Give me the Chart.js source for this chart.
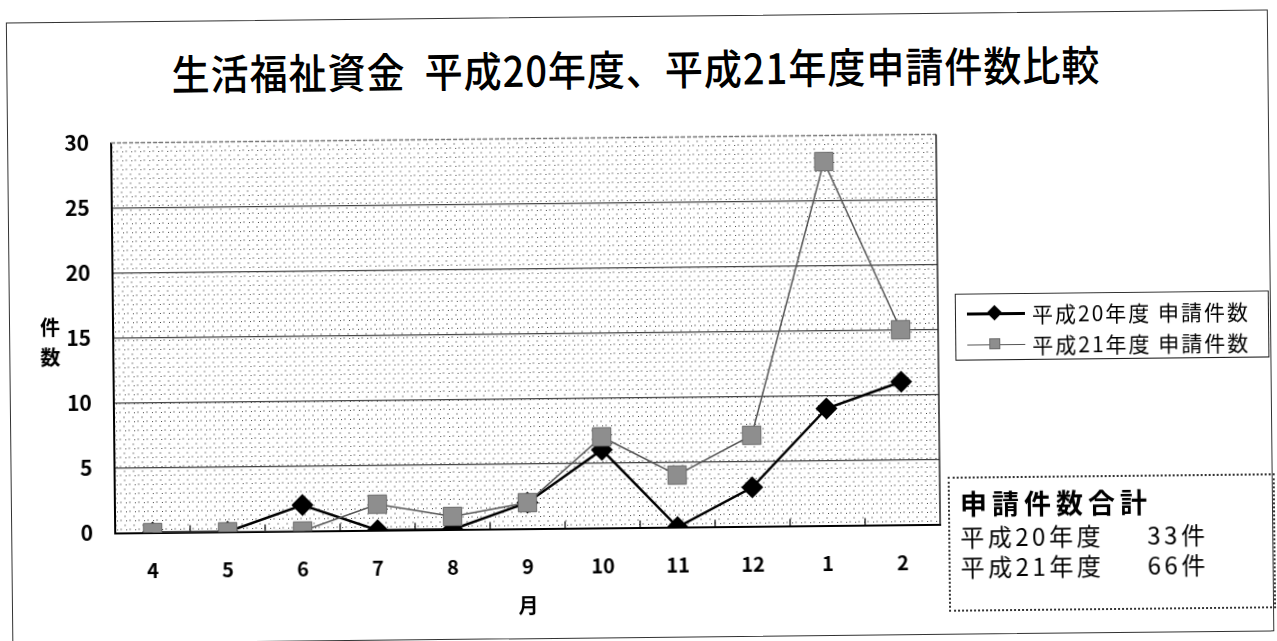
<!DOCTYPE html>
<html lang="ja">
<head>
<meta charset="utf-8">
<script src="https://cdn.jsdelivr.net/npm/chart.js@4.4.1/dist/chart.umd.min.js"></script>
<style>
  html, body { margin: 0; padding: 0; background: #fff; }
  body { width: 1277px; height: 641px; overflow: hidden; font-family: "Noto Sans CJK JP", sans-serif; color: #000; }
  #page { position: absolute; left: 0; top: 0; width: 1277px; height: 641px; transform: rotate(-0.6deg); transform-origin: 638px 320px; }
  #frame { position: absolute; left: 9px; top: 16px; width: 1262px; height: 622px; border: 1.5px solid #333; box-sizing: border-box; }
  #chart-wrap { position: absolute; left: 0; top: 0; width: 1277px; height: 641px; }
  #title { position: absolute; left: 0; top: 46px; width: 1277px; text-align: center; font-size: 38px; line-height: 44px; font-weight: 500; letter-spacing: 1px; transform: scaleY(1.1); white-space: pre; }
  #ytitle { position: absolute; left: 38px; top: 306px; width: 24px; font-size: 20px; line-height: 30px; text-align: center; font-weight: bold; }
  #legend { position: absolute; left: 955px; top: 297px; width: 314px; height: 67px; border: 1.5px solid #222; box-sizing: border-box; }
  .lg-row { position: absolute; left: 0; width: 100%; height: 30px; }
  .lg-line { position: absolute; left: 11px; width: 58px; top: 15px; }
  .lg-mark { position: absolute; }
  .lg-text { position: absolute; left: 76px; top: 0; line-height: 30px; font-size: 21px; letter-spacing: 2px; white-space: nowrap; }
  #totals { position: absolute; left: 946px; top: 480px; width: 327px; height: 135px; border: 2px dotted #333; box-sizing: border-box; }
  .tt-head { position: absolute; left: 10px; top: 8px; font-size: 27px; line-height: 34px; font-weight: bold; letter-spacing: 5px; white-space: nowrap; }
  .tt-row { position: absolute; left: 10px; font-size: 24px; line-height: 30px; letter-spacing: 3.5px; white-space: nowrap; }
  .tt-val { position: absolute; left: 187px; }
</style>
</head>
<body>
<div id="page">
  <div id="frame"></div>
  <div id="title">生活福祉資金  平成20年度、平成21年度申請件数比較</div>
  <div id="chart-wrap"><canvas id="countChart" width="1277" height="641"></canvas></div>
  <div id="ytitle">件<br>数</div>
  <div id="legend"></div>
  <div id="totals"></div>
</div>
<script>
const months = ['4', '5', '6', '7', '8', '9', '10', '11', '12', '1', '2'];
const h20Counts = [0, 0, 2, 0, 0, 2, 6, 0, 3, 9, 11];
const h21Counts = [0, 0, 0, 2, 1, 2, 7, 4, 7, 28, 15];
const seriesLabels = ['平成20年度 申請件数', '平成21年度 申請件数'];
const yTicks = [0, 5, 10, 15, 20, 25, 30];
const xTitle = '月';
const totalsTitle = '申請件数合計';
const totalsYears = ['平成20年度', '平成21年度'];

const FONT = '"Noto Sans CJK JP", sans-serif';
Chart.defaults.font.family = FONT;
Chart.defaults.color = '#000';

// stippled plot background like the printed original
function makeDotPattern(ctx) {
    const c = document.createElement('canvas');
    c.width = 9; c.height = 9;
    const p = c.getContext('2d');
    p.fillStyle = '#fff';
    p.fillRect(0, 0, 9, 9);
    p.fillStyle = '#c4c4c4';
    p.fillRect(1, 1, 2, 2);
    p.fillRect(5, 6, 2, 2);
    p.fillStyle = '#444';
    p.fillRect(7, 2, 1, 1);
    return ctx.createPattern(c, 'repeat');
}

const plotFrame = {
    id: 'plotFrame',
    beforeDraw(chart) {
        const { ctx, chartArea: a } = chart;
        ctx.save();
        ctx.fillStyle = makeDotPattern(ctx);
        ctx.fillRect(a.left, a.top, a.right - a.left, a.bottom - a.top);
        ctx.restore();
    },
    beforeDatasetsDraw(chart) {
        const { ctx, chartArea: a, scales: { x } } = chart;
        ctx.save();
        ctx.strokeStyle = '#777';
        ctx.lineWidth = 1.5;
        ctx.setLineDash([4, 2]);
        ctx.beginPath();
        ctx.moveTo(a.left, a.top);
        ctx.lineTo(a.right, a.top);
        ctx.stroke();
        ctx.setLineDash([]);
        ctx.strokeStyle = '#222';
        ctx.beginPath();
        ctx.moveTo(a.right, a.top);
        ctx.lineTo(a.right, a.bottom);
        ctx.stroke();
        // small tick marks between months, pointing up into the plot
        ctx.strokeStyle = '#000';
        ctx.lineWidth = 1.2;
        for (let i = 1; i < months.length; i++) {
            const px = (x.getPixelForTick(i - 1) + x.getPixelForTick(i)) / 2;
            ctx.beginPath();
            ctx.moveTo(px, a.bottom);
            ctx.lineTo(px, a.bottom - 7);
            ctx.stroke();
        }
        ctx.restore();
    }
};

new Chart(document.getElementById('countChart'), {
    type: 'line',
    data: {
        labels: months,
        datasets: [
            {
                label: seriesLabels[0],
                data: h20Counts,
                order: 1,
                borderColor: '#000',
                borderWidth: 2.5,
                backgroundColor: '#000',
                pointStyle: 'rectRot',
                pointRadius: 11,
                pointBorderWidth: 0,
                tension: 0
            },
            {
                label: seriesLabels[1],
                data: h21Counts,
                order: 0,
                borderColor: '#555',
                borderWidth: 1.5,
                backgroundColor: '#8e8e8e',
                pointStyle: 'rect',
                pointRadius: 13,
                pointBorderColor: '#6a6a6a',
                pointBorderWidth: 1,
                tension: 0
            }
        ]
    },
    options: {
        responsive: false,
        animation: false,
        events: [],
        layout: { padding: { left: 53, right: 339, top: 137.5, bottom: 18.5 } },
        plugins: {
            legend: { display: false },
            title: { display: false },
            tooltip: { enabled: false }
        },
        scales: {
            x: {
                offset: true,
                grid: { display: false },
                border: { display: true, color: '#000', width: 2 },
                ticks: { padding: 18, font: { size: 20, weight: 'bold' } },
                title: {
                    display: true,
                    text: xTitle,
                    font: { size: 20, weight: 'bold' },
                    padding: { top: 0, bottom: 6 }
                },
                afterFit(scale) { scale.height = 95; }
            },
            y: {
                min: 0,
                max: 30,
                afterBuildTicks(scale) { scale.ticks = yTicks.map(v => ({ value: v })); },
                grid: {
                    drawTicks: false,
                    lineWidth: 1.3,
                    color: c => (c.tick && (c.tick.value === 30 || c.tick.value === 0)) ? 'rgba(0,0,0,0)' : '#444'
                },
                border: { display: true, color: '#000', width: 2 },
                ticks: { padding: 22, font: { size: 21, weight: 'bold' } },
                afterFit(scale) { scale.width = 60; }
            }
        }
    },
    plugins: [plotFrame]
});

// legend box on the right, line + marker samples
function renderLegend() {
    const box = document.getElementById('legend');
    const rowTops = [4, 35];
    box.innerHTML = seriesLabels.map((label, i) => {
        const line = i === 0
            ? '<div class="lg-line" style="height:2.5px;margin-top:-1px;background:#000"></div>'
            : '<div class="lg-line" style="height:1.5px;margin-top:-0.5px;background:#555"></div>';
        const mark = i === 0
            ? '<div class="lg-mark" style="left:33px;top:9px;width:11px;height:11px;background:#000;transform:rotate(45deg)"></div>'
            : '<div class="lg-mark" style="left:33px;top:9px;width:11px;height:11px;background:#8e8e8e;border:1px solid #6a6a6a;box-sizing:border-box"></div>';
        return `<div class="lg-row" style="top:${rowTops[i]}px">${line}${mark}<div class="lg-text">${label}</div></div>`;
    }).join('');
}

function renderTotals() {
    const box = document.getElementById('totals');
    const sums = [h20Counts, h21Counts].map(arr => arr.reduce((s, v) => s + v, 0));
    const rowTops = [43, 73];
    box.innerHTML = `<div class="tt-head">${totalsTitle}</div>` + totalsYears.map((yr, i) =>
        `<div class="tt-row" style="top:${rowTops[i]}px">${yr}<span class="tt-val">${sums[i]}件</span></div>`
    ).join('');
}

renderLegend();
renderTotals();
</script>
</body>
</html>
